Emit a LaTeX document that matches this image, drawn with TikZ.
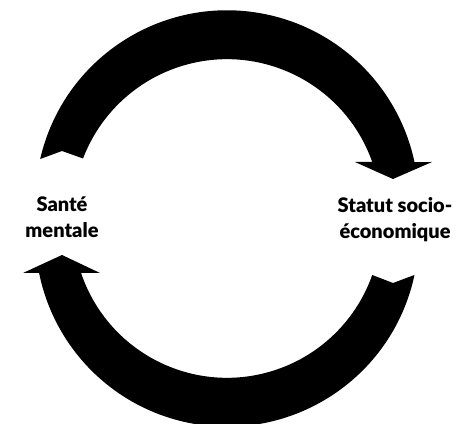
\documentclass[tikz,border=0pt]{standalone}
\usepackage{fontspec}
\setmainfont{Lato}[BoldFont={Lato Black}]
\usepackage{tikz}
\usetikzlibrary{calc}
\tikzset{
	factor/.style={align=center, font=\bfseries\fontsize{20}{26}\selectfont, inner sep=0pt},
	bigarrow/.style={fill=black}
}

\begin{document}
\begin{tikzpicture}[x=1pt, y=1pt]
	\useasboundingbox (0,0) rectangle (459,424);
	\coordinate (outT) at (227,222);
	\coordinate (inT) at (227,210.8);
	\coordinate (outB) at (227,189);
	\coordinate (inB) at (227,200.2);

	\node[factor] (sante) at (62,206.5) {Santé\\mentale};
	\node[factor] (statut) at (395,204.5) {Statut socio-\\économique};

	\fill[bigarrow] ($(outT)+(167.04:191.7)$) arc[start angle=167.04, end angle=12.04, radius=191.7]
		-- (432,262) -- (393,245) -- (355,262)
		-- ($(inT)+(19.42:154)$) arc[start angle=19.42, end angle=159.19, radius=154]
		-- (62,273) -- cycle;
	\fill[bigarrow] ($(outB)+(-12.04:191.7)$) arc[start angle=-12.04, end angle=-168.57, radius=191.7]
		-- (23,151) -- (62,169) -- (100,151)
		-- ($(inB)+(-161.37:154)$) arc[start angle=-161.37, end angle=-19.42, radius=154]
		-- (393,141) -- cycle;
\end{tikzpicture}
\end{document}
